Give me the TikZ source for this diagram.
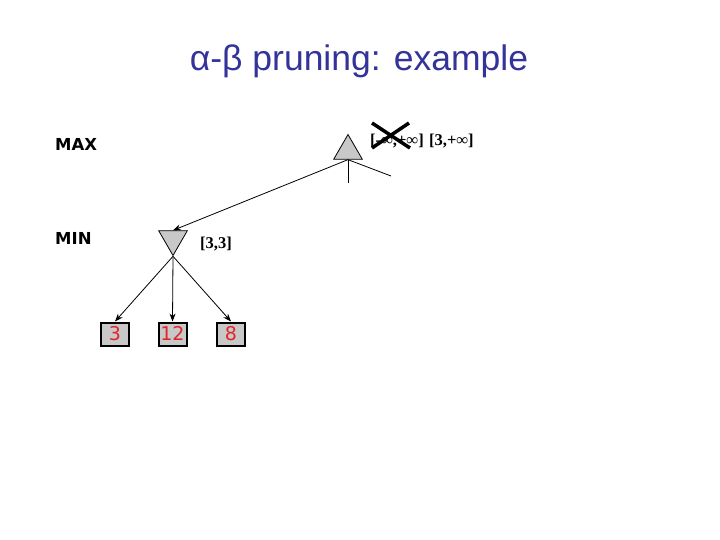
\documentclass[tikz,border=0pt]{standalone}
\usepackage{fontspec}
\setmainfont{Liberation Serif}
\newfontfamily\titlefont{Liberation Sans}
\newfontfamily\labfont{DejaVu Sans}
\usetikzlibrary{shapes.geometric,arrows.meta}
\definecolor{titleblue}{HTML}{333399}
\definecolor{nodegray}{HTML}{C8C8C8}
\definecolor{leafred}{HTML}{E0262B}
\tikzset{
  tri/.style={regular polygon, regular polygon sides=3, minimum size=33pt, inner sep=0pt,
    draw=black, line width=0.8pt, fill=nodegray},
  leaf/.style={draw=black, line width=2pt, fill=nodegray, minimum width=28pt, minimum height=23pt,
    inner sep=0pt, text=leafred, text height=13.5pt, text depth=0pt, font=\labfont\fontsize{19}{19}\selectfont},
  edge/.style={line width=0.8pt, -{Stealth[length=8pt,width=6pt]}},
  plain/.style={line width=0.8pt},
  levellab/.style={anchor=west, inner sep=0pt, font=\labfont\bfseries\fontsize{16.5}{16.5}\selectfont},
  intlab/.style={anchor=base west, inner sep=0pt, font=\bfseries\fontsize{16.5}{16.5}\selectfont},
  crossline/.style={line width=3.5pt}
}
\begin{document}
\begin{tikzpicture}[x=1pt,y=-1pt]
\useasboundingbox (0,0) rectangle (720,540);
\node[font=\titlefont\fontsize{35.5}{35.5}\selectfont, text=titleblue, inner sep=0pt] (title) at (359,61) {α-β pruning: example};
\node[levellab] (maxlab) at (55,144) {MAX};
\node[levellab] (minlab) at (55,238) {MIN};
\node[tri] (max) at (348,151) {};
\node[tri, shape border rotate=180] (min) at (173,239) {};
\coordinate (vdown) at (348,183);
\coordinate (rdown) at (391,176);
\draw[plain] (max.south) -- (vdown);
\draw[plain] (max.south) -- (rdown);
\draw[edge] (max.south) -- (min.north);
\node[intlab] (old) at (370,146) {[-∞,+∞]};
\node[intlab] (new) at (429,146) {[3,+∞]};
\coordinate (xa) at (372,123);
\coordinate (xb) at (410,148);
\coordinate (xc) at (372,148);
\coordinate (xd) at (409,123);
\draw[crossline] (xa) -- (xb);
\draw[crossline] (xc) -- (xd);
\node[intlab] (minval) at (200,248) {[3,3]};
\node[leaf] (l1) at (115,334) {3};
\node[leaf] (l2) at (172.5,334) {12};
\node[leaf] (l3) at (231,334) {8};
\draw[edge] (min.corner 1) -- (l1.north);
\draw[edge] (min.corner 1) -- (l2.north);
\draw[edge] (min.corner 1) -- (l3.north);
\end{tikzpicture}
\end{document}
